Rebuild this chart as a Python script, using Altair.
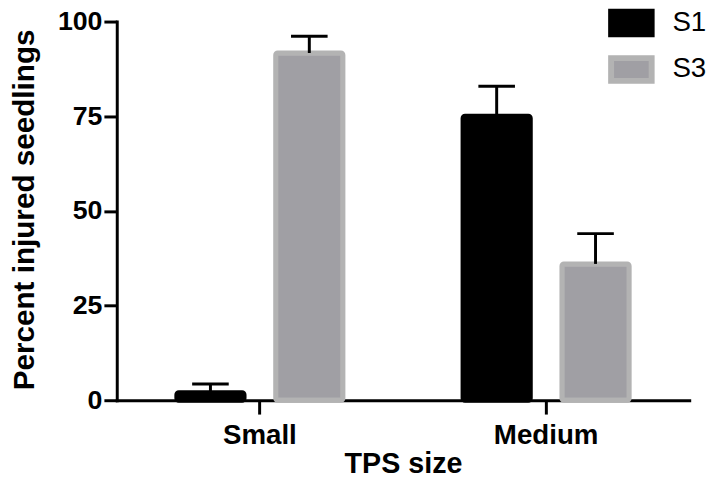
import altair as alt
import pandas as pd

categories = ["Small", "Medium"]
series = ["S1", "S3"]
s1_mean = [2.0, 75.0]
s3_mean = [91.7, 36.0]
s1_err = [2.3, 7.9]
s3_err = [4.4, 8.0]

rows = []
for i, c in enumerate(categories):
    rows.append({"size": c, "series": "S1", "mean": s1_mean[i], "upper": s1_mean[i] + s1_err[i]})
    rows.append({"size": c, "series": "S3", "mean": s3_mean[i], "upper": s3_mean[i] + s3_err[i]})
df = pd.DataFrame(rows)

FONT = "Liberation Sans"
fill_colors = ["#000000", "#A09FA4"]
stroke_colors = ["#000000", "#B3B3B3"]

legend = alt.Legend(
    title=None, orient="none", legendX=497, legendY=-22, padding=0,
    symbolType="M-1,-0.56H1V0.56H-1Z", symbolSize=1681, symbolStrokeWidth=6,
    symbolOpacity=1, labelFont=FONT, labelFontSize=28, labelColor="black",
    labelOffset=18, rowPadding=-3,
)

x_enc = alt.X(
    "size:N", sort=categories,
    scale=alt.Scale(paddingInner=0, paddingOuter=0),
    axis=alt.Axis(
        title="TPS size", labelAngle=0, labelFont=FONT, labelFontSize=28,
        labelFontWeight="bold", labelColor="black", labelPadding=8,
        tickSize=14, tickWidth=3, tickColor="black",
        domainWidth=3, domainColor="black", domainCap="square",
        titleFont=FONT, titleFontSize=29, titleFontWeight="bold", titleColor="black",
        titleX=289.5, titleY=73, titleAlign="center", titleBaseline="alphabetic",
        grid=False,
    ),
)
xoff_enc = alt.XOffset("series:N", sort=series,
                       scale=alt.Scale(paddingInner=0.32, paddingOuter=0.6075))

y_scale = alt.Scale(domain=[0, 100], nice=False)
y_axis = alt.Axis(
    values=[0, 25, 50, 75, 100], title="Percent injured seedlings",
    labelFont=FONT, labelFontSize=27, labelFontWeight="bold", labelColor="black",
    labelPadding=2, labelFlush=False, labelOverlap=False,
    tickSize=13, tickWidth=3, tickColor="black",
    domainWidth=3, domainColor="black", domainCap="square",
    titleFont=FONT, titleFontSize=30, titleFontWeight="bold", titleColor="black",
    titleAngle=-90, titleX=-84, titleY=190, titleAlign="center",
    titleBaseline="alphabetic", grid=False,
)

base = alt.Chart(df)

bars = base.mark_bar(strokeWidth=5, cornerRadius=2, opacity=1).encode(
    x=x_enc,
    xOffset=xoff_enc,
    y=alt.Y("mean:Q", scale=y_scale, axis=y_axis),
    fill=alt.Fill("series:N", sort=series,
                  scale=alt.Scale(domain=series, range=fill_colors), legend=legend),
    stroke=alt.Stroke("series:N", sort=series,
                      scale=alt.Scale(domain=series, range=stroke_colors), legend=legend),
)

rules = base.mark_rule(strokeWidth=3, color="black").encode(
    x=alt.X("size:N", sort=categories),
    xOffset=alt.XOffset("series:N", sort=series),
    y=alt.Y("mean:Q"),
    y2="upper:Q",
)

caps = base.mark_tick(size=37, thickness=3, color="black", opacity=1).encode(
    x=alt.X("size:N", sort=categories),
    xOffset=alt.XOffset("series:N", sort=series),
    y=alt.Y("upper:Q"),
)

chart = (
    alt.layer(bars, rules, caps)
    .properties(
        width=579, height=383,
        autosize=alt.AutoSizeParams(type="none"),
        padding={"left": 110, "top": 11, "right": 20, "bottom": 80},
        background="white",
    )
    .configure_view(stroke=None)
)

chart.save("out.html", embed_options={"renderer": "svg", "actions": False})
